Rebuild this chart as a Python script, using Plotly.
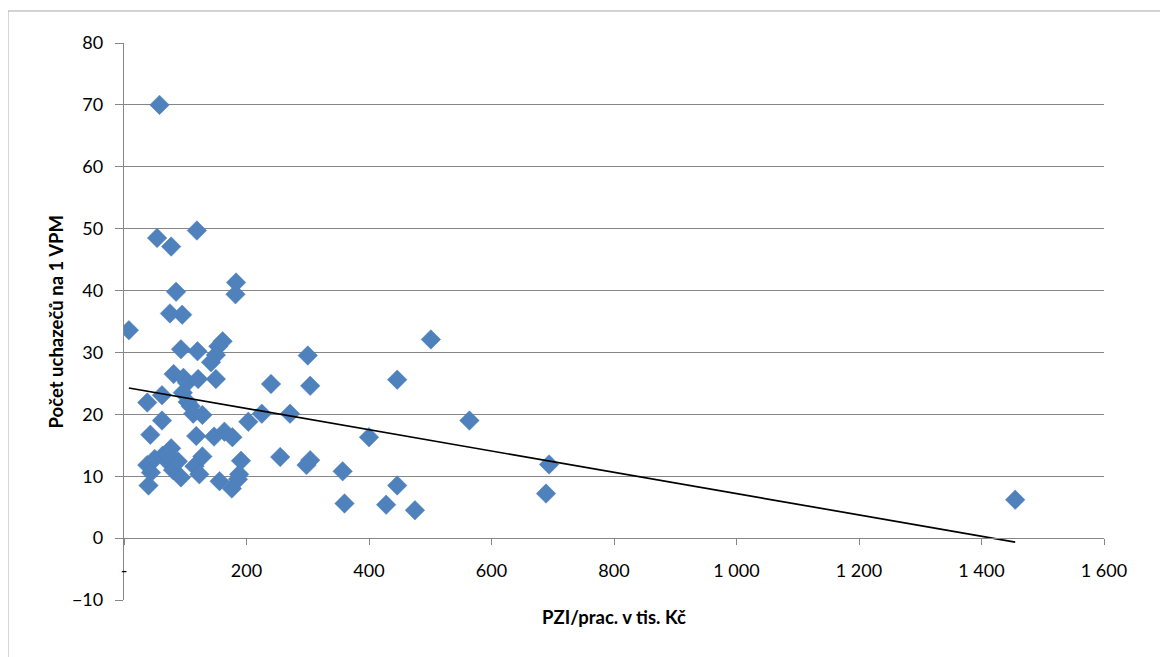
import numpy as np
import plotly.graph_objects as go

# PZI per worker (thousand CZK) and number of applicants per 1 vacancy
pzi = [8, 58, 54, 77, 119, 85, 183, 182, 75, 95,
       93, 120, 161, 154, 150, 142, 300, 501, 446, 81,
       97, 103, 121, 150, 240, 304, 62, 96, 38, 104,
       109, 113, 128, 225, 271, 203, 62, 564, 43, 118,
       147, 164, 177, 400, 255, 304, 298, 357, 694, 446,
       360, 428, 475, 689, 1455,
       40, 38, 44, 50, 63, 77, 75, 80, 88, 93,
       115, 123, 128, 156, 176, 188, 191, 186, 70]
uchazeci = [33.6, 70.0, 48.5, 47.1, 49.7, 39.8, 41.3, 39.4, 36.3, 36.1,
            30.5, 30.2, 31.8, 31.0, 29.6, 28.4, 29.5, 32.1, 25.6, 26.5,
            25.9, 25.1, 25.7, 25.7, 24.9, 24.6, 23.1, 23.5, 21.9, 22.0,
            21.3, 20.1, 19.9, 20.1, 20.1, 18.8, 19.0, 19.0, 16.7, 16.5,
            16.4, 17.2, 16.3, 16.3, 13.1, 12.6, 11.8, 10.8, 11.9, 8.5,
            5.6, 5.4, 4.5, 7.2, 6.2,
            8.5, 11.8, 10.6, 12.8, 13.3, 14.5, 12.0, 11.0, 12.4, 9.8,
            11.6, 10.3, 13.2, 9.2, 8.0, 10.3, 12.5, 9.5, 13.5]

x_tickvals = [0, 200, 400, 600, 800, 1000, 1200, 1400, 1600]
x_ticktext = ["-", "200", "400", "600", "800", "1 000", "1 200", "1 400", "1 600"]
y_tickvals = [-10, 0, 10, 20, 30, 40, 50, 60, 70, 80]

x_title = "PZI/prac. v tis. Kč"
y_title = "Počet uchazečů na 1 VPM"

# linear trend line (least squares) over the data range
xa = np.array(pzi, dtype=float)
ya = np.array(uchazeci, dtype=float)
slope, intercept = np.polyfit(xa, ya, 1)
trend_x = [xa.min(), xa.max()]
trend_y = [intercept + slope * v for v in trend_x]

FONT = "Lato"
GRID = "#868686"

fig = go.Figure()
fig.add_trace(go.Scatter(
    x=pzi, y=uchazeci, mode="markers",
    marker=dict(symbol="diamond", size=15, color="#4F81BD",
                line=dict(color="#4A7EBB", width=0.5)),
    showlegend=False, hoverinfo="x+y"))
fig.add_trace(go.Scatter(
    x=trend_x, y=trend_y, mode="lines",
    line=dict(color="black", width=1.7),
    showlegend=False, hoverinfo="skip"))

x_pos = 10 / 90  # x-axis crosses the y-axis at 0

fig.update_layout(
    width=1168, height=657,
    margin=dict(l=116, r=72, t=35, b=65),
    paper_bgcolor="white", plot_bgcolor="white",
    font=dict(family=FONT, size=18, color="black"),
    xaxis=dict(range=[0, 1600], tickvals=x_tickvals, ticktext=x_ticktext,
               showgrid=False, zeroline=False,
               showline=True, linecolor=GRID, linewidth=1.3,
               ticks="outside", ticklen=6, tickcolor=GRID, tickwidth=1.3,
               anchor="free", position=x_pos, ticklabelstandoff=10,
               tickfont=dict(family=FONT, size=18)),
    yaxis=dict(range=[-10, 80], tickvals=y_tickvals,
               showgrid=True, gridcolor=GRID, gridwidth=1.3,
               zeroline=False,
               showline=True, linecolor=GRID, linewidth=1.3,
               ticks="outside", ticklen=8, tickcolor=GRID, tickwidth=1.3,
               ticklabelstandoff=8,
               tickfont=dict(family=FONT, size=18)),
    annotations=[
        dict(text="<b>" + x_title + "</b>", xref="paper", yref="paper",
             x=0.5, y=-0.03, xanchor="center", yanchor="middle",
             showarrow=False, font=dict(family=FONT, size=18.5)),
        dict(text="<b>" + y_title + "</b>", xref="paper", yref="paper",
             x=-0.0694, y=0.5, xanchor="center", yanchor="middle",
             textangle=-90, showarrow=False, font=dict(family=FONT, size=18.5)),
    ],
    shapes=[
        dict(type="line", xref="paper", yref="paper",
             x0=-0.1184, x1=-0.1184, y0=1.0575, y1=-0.2,
             line=dict(color="#A6A6A6", width=1)),
        dict(type="line", xref="paper", yref="paper",
             x0=-0.1184, x1=1.1, y0=1.0575, y1=1.0575,
             line=dict(color="#A6A6A6", width=1)),
    ],
)

fig.write_html("out.html")
